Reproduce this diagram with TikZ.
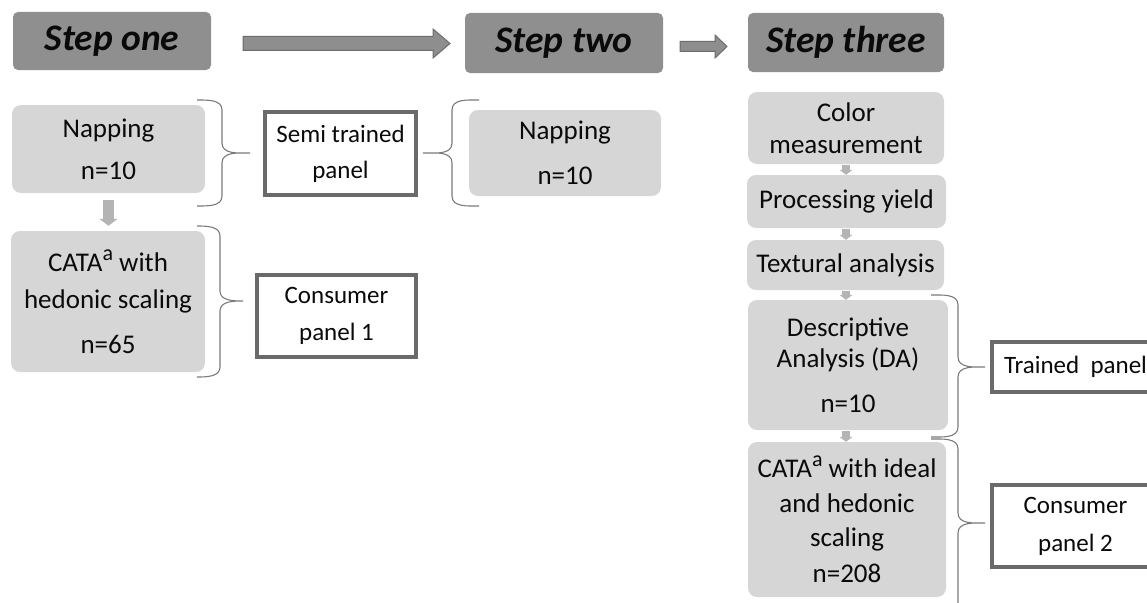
\documentclass[tikz,border=0pt]{standalone}
\usepackage{fontspec}
\setmainfont{Carlito}
\usetikzlibrary{calc,arrows.meta}

\definecolor{headfill}{HTML}{8F8F8F}
\definecolor{stagefill}{HTML}{D6D6D6}
\definecolor{panelline}{HTML}{6A6A6A}
\definecolor{bracecol}{HTML}{7A7A7A}
\definecolor{bigarrowfill}{HTML}{8E8E8E}
\definecolor{bigarrowline}{HTML}{6C6C6C}
\definecolor{flowcol}{HTML}{B4B4B4}
\definecolor{inktext}{HTML}{0A0A0A}

\tikzset{
  header/.style={fill=headfill, rounded corners=5pt, inner sep=0pt, text=inktext,
    font=\fontsize{37.5}{40}\selectfont\bfseries\itshape},
  stage/.style={fill=stagefill, rounded corners=9pt, inner sep=0pt, align=center,
    text=inktext, font=\fontsize{27}{33}\selectfont},
  panel/.style={fill=white, draw=panelline, line width=3.5pt, inner sep=0pt,
    align=center, text=inktext, font=\fontsize{25}{30}\selectfont},
  bracestyle/.style={draw=bracecol, line width=1.1pt},
  blockarr/.style={fill=bigarrowfill, draw=bigarrowline, line width=1pt},
  stepflow/.style={draw=flowcol, line width=11pt,
    -{Triangle[width=18pt,length=7pt]}},
  smallflow/.style={draw=flowcol, line width=8pt,
    -{Triangle[width=13pt,length=5pt]}},
}

% raised footnote letter after CATA
\newcommand\supa{\raisebox{11pt}{\fontsize{22}{22}\selectfont a}}

% outlined block arrow from #1 to #2: shaft half-height #3, head half-height #4, head length #5
\newcommand\blockarrow[5]{%
  \path let \p1=(#1), \p2=(#2) in [blockarr]
    (\x1,\y1+#3) -- (\x2-#5,\y1+#3) -- (\x2-#5,\y1+#4) -- (\x2,\y1)
    -- (\x2-#5,\y1-#4) -- (\x2-#5,\y1-#3) -- (\x1,\y1-#3) -- cycle;}

% curly brace: ends at x=#1, spine at x=#2, tip at x=#3; top #4, tip height #5, bottom #6;
% #7 = 0 opens to the left (tip right), 180 opens to the right (tip left)
\newcommand\panelbrace[7]{%
  \draw[bracestyle] (#1,#4) to[out=#7,in=90] (#2,#4+10) -- (#2,#5-10)
    to[out=-90,in=#7+180] (#3,#5) to[out=#7+180,in=90] (#2,#5+10)
    -- (#2,#6-10) to[out=-90,in=#7] (#1,#6);}

\begin{document}
\begin{tikzpicture}[x=1pt,y=-1pt]
\useasboundingbox (0,0) rectangle (1147,602);
\clip (0,0) rectangle (1147,602);

% headers
\node[header, minimum width=198pt, minimum height=58pt] (s1) at (112,41) {Step one};
\node[header, minimum width=198pt, minimum height=60pt] (s2) at (564,43) {Step two};
\node[header, minimum width=196pt, minimum height=59pt] (s3) at (846,42.5) {Step three};

% arrows between the steps
\coordinate (a1s) at (243,43.5);
\coordinate (a1e) at (450,43.5);
\coordinate (a2s) at (680,46.5);
\coordinate (a2e) at (727,46.5);
\blockarrow{a1s}{a1e}{7pt}{14.5pt}{17pt}
\blockarrow{a2s}{a2e}{5pt}{11.5pt}{12pt}

% step one
\node[stage, minimum width=193pt, minimum height=88pt] (nap1) at (108.5,149)
  {Napping\\[9pt]n=10};
\node[stage, minimum width=194pt, minimum height=141pt] (cata1) at (108,301.5)
  {CATA\supa{} with\\[4pt]hedonic scaling\\[12pt]n=65};
\node[panel, minimum width=151pt, minimum height=83pt] (semi) at (340.5,153.5)
  {Semi trained\\[6pt]panel};
\node[panel, minimum width=159pt, minimum height=82pt] (cons1) at (336.5,316)
  {Consumer\\[7pt]panel 1};
\draw[stepflow, shorten <=7pt, shorten >=5pt] (nap1.south) -- (cata1.north -| nap1.south);

% step two
\node[stage, minimum width=192pt, minimum height=86pt] (nap2) at (565,153)
  {Napping\\[12pt]n=10};

% step three
\node[stage, minimum width=196pt, minimum height=72pt] (color) at (846,128)
  {Color\\[-1pt]measurement};
\node[stage, minimum width=199pt, minimum height=53pt] (proc) at (846.5,201.5)
  {Processing yield};
\node[stage, minimum width=197pt, minimum height=50pt] (textu) at (845.5,265)
  {Textural analysis};
\node[stage, minimum width=200pt, minimum height=130pt] (da) at (848,365)
  {Descriptive\\[-2pt]Analysis (DA)\\[12pt]n=10};
\node[stage, minimum width=198pt, minimum height=155pt] (cata2) at (847,519.5)
  {CATA\supa{} with ideal\\[2pt]and hedonic\\[1pt]scaling\\[3pt]n=208};
\node[panel, minimum width=167pt, minimum height=50pt] (trained) at (1075.5,367)
  {Trained\ \ panel};
\node[panel, minimum width=167pt, minimum height=82pt] (cons2) at (1075.5,526)
  {Consumer\\[8pt]panel 2};

\draw[smallflow, shorten <=1pt] (color.south) -- (color.south |- proc.north);
\draw[smallflow, shorten <=1pt] (color.south |- proc.south) -- (color.south |- textu.north);
\draw[smallflow, shorten <=1pt] (color.south |- textu.south) -- (color.south |- da.north);
\draw[smallflow, shorten <=1pt] (color.south |- da.south) -- (color.south |- cata2.north);

% braces grouping the methods by panel
\panelbrace{197}{222}{250}{100}{153}{206}{0}
\panelbrace{479}{452}{423}{100}{153}{206}{180}
\panelbrace{197}{220}{243}{226}{301}{377}{0}
\panelbrace{931}{958}{985}{295}{367}{437}{0}
\panelbrace{931}{958}{985}{439}{523}{640}{0}
\end{tikzpicture}
\end{document}
